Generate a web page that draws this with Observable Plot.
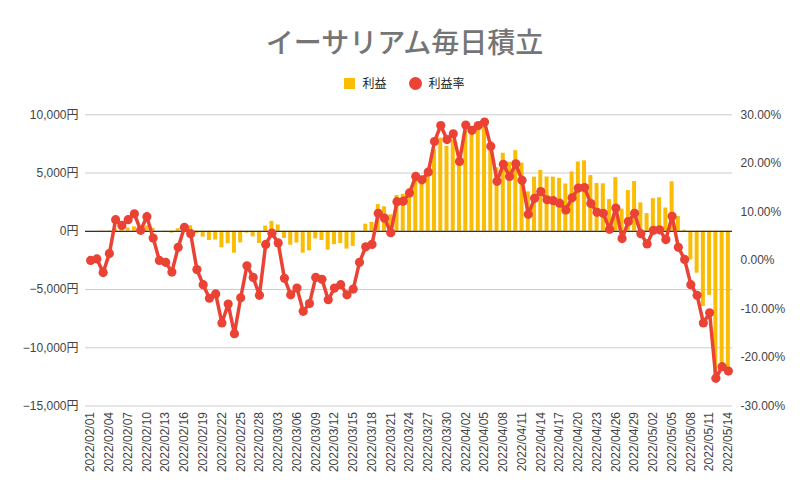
<!DOCTYPE html>
<html>
<head>
<meta charset="utf-8">
<script src="https://cdn.jsdelivr.net/npm/d3@7"></script>
<script src="https://cdn.jsdelivr.net/npm/@observablehq/plot@0.6"></script>
<style>
  body { margin: 0; background: #fff; }
  #wrap { position: relative; width: 809px; height: 499px; overflow: hidden; background: #fff; }
  #title { position: absolute; top: 21px; left: 0; width: 809px; text-align: center;
    font-family: "Noto Sans CJK JP", sans-serif; font-size: 28px; line-height: 40px; color: #757575; font-weight: 500; }
  #legend { position: absolute; top: 74px; left: 0; width: 809px; display: flex; justify-content: center; align-items: center;
    font-family: "Noto Sans CJK JP", sans-serif; font-size: 12px; color: #222; line-height: 18px; }
  .sw { display: inline-block; margin-right: 7px; }
  .item { display: flex; align-items: center; margin: 0 11px; }
  .layer { position: absolute; left: 0; top: 90px; }
</style>
</head>
<body>
<div id="wrap">
  <div id="title">イーサリアム毎日積立</div>
  <div id="legend">
    <span class="item"><span class="sw" style="width:11px;height:11px;background:#fbbc04"></span>利益</span>
    <span class="item"><span class="sw" style="width:13px;height:13px;border-radius:50%;background:#ea4335"></span>利益率</span>
  </div>
  <div id="p1" class="layer"></div>
  <div id="p2" class="layer"></div>
</div>
<script>
const dates = [
"2022/02/01","2022/02/02","2022/02/03","2022/02/04","2022/02/05","2022/02/06","2022/02/07","2022/02/08","2022/02/09","2022/02/10",
"2022/02/11","2022/02/12","2022/02/13","2022/02/14","2022/02/15","2022/02/16","2022/02/17","2022/02/18","2022/02/19","2022/02/20",
"2022/02/21","2022/02/22","2022/02/23","2022/02/24","2022/02/25","2022/02/26","2022/02/27","2022/02/28",
"2022/03/01","2022/03/02","2022/03/03","2022/03/04","2022/03/05","2022/03/06","2022/03/07","2022/03/08","2022/03/09","2022/03/10",
"2022/03/11","2022/03/12","2022/03/13","2022/03/14","2022/03/15","2022/03/16","2022/03/17","2022/03/18","2022/03/19","2022/03/20",
"2022/03/21","2022/03/22","2022/03/23","2022/03/24","2022/03/25","2022/03/26","2022/03/27","2022/03/28","2022/03/29","2022/03/30","2022/03/31",
"2022/04/01","2022/04/02","2022/04/03","2022/04/04","2022/04/05","2022/04/06","2022/04/07","2022/04/08","2022/04/09","2022/04/10",
"2022/04/11","2022/04/12","2022/04/13","2022/04/14","2022/04/15","2022/04/16","2022/04/17","2022/04/18","2022/04/19","2022/04/20",
"2022/04/21","2022/04/22","2022/04/23","2022/04/24","2022/04/25","2022/04/26","2022/04/27","2022/04/28","2022/04/29","2022/04/30",
"2022/05/01","2022/05/02","2022/05/03","2022/05/04","2022/05/05","2022/05/06","2022/05/07","2022/05/08","2022/05/09","2022/05/10",
"2022/05/11","2022/05/12","2022/05/13","2022/05/14"
];

// 利益 (円)
const profit = [
  0, 5, -40, 30, 200, 210, 290, 380, 280, 450,
  250, 0, -30, -160, 210, 550, 470, -180, -500, -790,
  -750, -1420, -1070, -1880, -1000, -160, -480, -1050, 450, 850,
  540, -620, -1200, -1010, -1880, -1680, -650, -790, -1620, -1150,
  -1050, -1530, -1300, -100, 610, 760, 2290, 2100, 1410, 3080,
  3180, 3600, 4650, 4520, 5050, 7000, 8000, 7300, 7800, 6080,
  8600, 8350, 8750, 9080, 7700, 5450, 6700, 5930, 6920, 5850,
  3380, 4650, 5220, 4660, 4650, 4540, 4060, 5100, 5950, 6050,
  4780, 4100, 4080, 2720, 4610, 1900, 3490, 4270, 2440, 1520,
  2800, 2880, 2000, 4250, 1280, 90, -2460, -3600, -6450, -5500,
  -12350, -11400, -11800
];

// 利益率 (%)
const rate = [
  0.0, 0.3, -2.5, 1.4, 8.4, 7.2, 8.4, 9.6, 6.2, 9.0,
  4.6, 0.0, -0.4, -2.4, 2.7, 6.8, 5.5, -1.9, -5.0, -7.8,
  -6.9, -12.9, -9.0, -15.1, -7.7, -1.1, -3.5, -7.2, 3.3, 5.6,
  3.6, -3.7, -7.1, -5.7, -10.5, -8.9, -3.5, -3.9, -8.1, -5.7,
  -5.0, -7.1, -5.9, -0.4, 2.8, 3.3, 9.7, 8.7, 5.7, 12.1,
  12.2, 13.9, 17.3, 16.6, 18.2, 24.5, 27.8, 24.9, 26.1, 20.4,
  27.9, 26.8, 27.8, 28.5, 23.5, 16.3, 19.8, 17.3, 19.9, 16.5,
  9.5, 12.8, 14.2, 12.5, 12.3, 11.8, 10.4, 12.9, 14.9, 15.0,
  11.7, 9.9, 9.7, 6.4, 10.8, 4.5, 8.0, 9.7, 5.5, 3.4,
  6.2, 6.3, 4.3, 9.1, 2.7, 0.2, -5.0, -7.2, -12.9, -10.8,
  -24.3, -21.9, -22.8
];

const leftTicks = [-15000, -10000, -5000, 0, 5000, 10000];
const rightTicks = [-30, -20, -10, 0, 10, 20, 30];
const xTicks = dates.filter((d, i) => i % 3 === 0);

const W = 809, H = 409, MT = 24.3, MB = 93.5, ML = 85, MR = 77;
const font = '"Liberation Sans", "Noto Sans CJK JP", sans-serif';
const xOpts = {type: "band", domain: dates, paddingInner: 0.36, paddingOuter: 0.18, align: 0.5, round: false, insetLeft: 2, insetRight: 1};

const p1 = Plot.plot({
  width: W, height: H, marginTop: MT, marginBottom: MB, marginLeft: ML, marginRight: MR,
  style: {fontFamily: font, fontSize: "12px", background: "transparent", overflow: "visible"},
  x: xOpts,
  y: {domain: [-15000, 10000]},
  marks: [
    Plot.gridY(leftTicks, {stroke: "#cccccc", strokeOpacity: 1, strokeWidth: 1}),
    Plot.barY(profit, {x: (d, i) => dates[i], y: d => d, fill: "#fbbc04"}),
    Plot.ruleY([0], {stroke: "#333", strokeWidth: 1.2}),
    Plot.axisY(leftTicks, {tickSize: 0, tickPadding: 7, label: null, fill: "#444", fontSize: 12,
      tickFormat: d => d3.format(",")(d) + "円"}),
    Plot.axisX(xTicks, {tickRotate: -90, tickSize: 0, tickPadding: 6, label: null, fill: "#444", fontSize: 12})
  ]
});
document.getElementById("p1").appendChild(p1);

const p2 = Plot.plot({
  width: W, height: H, marginTop: MT, marginBottom: MB, marginLeft: ML, marginRight: MR,
  style: {fontFamily: font, fontSize: "12px", background: "transparent", overflow: "visible"},
  x: {...xOpts, axis: null},
  y: {domain: [-30, 30]},
  marks: [
    Plot.lineY(rate, {x: (d, i) => dates[i], y: d => d, stroke: "#ea4335", strokeWidth: 3.5, strokeLinejoin: "round"}),
    Plot.dot(rate, {x: (d, i) => dates[i], y: d => d, r: 4.6, fill: "#ea4335", stroke: "none"}),
    Plot.axisY(rightTicks, {anchor: "right", tickSize: 0, tickPadding: 8, label: null, fill: "#444", fontSize: 12,
      tickFormat: d => d.toFixed(2) + "%"})
  ]
});
document.getElementById("p2").appendChild(p2);
</script>
</body>
</html>
